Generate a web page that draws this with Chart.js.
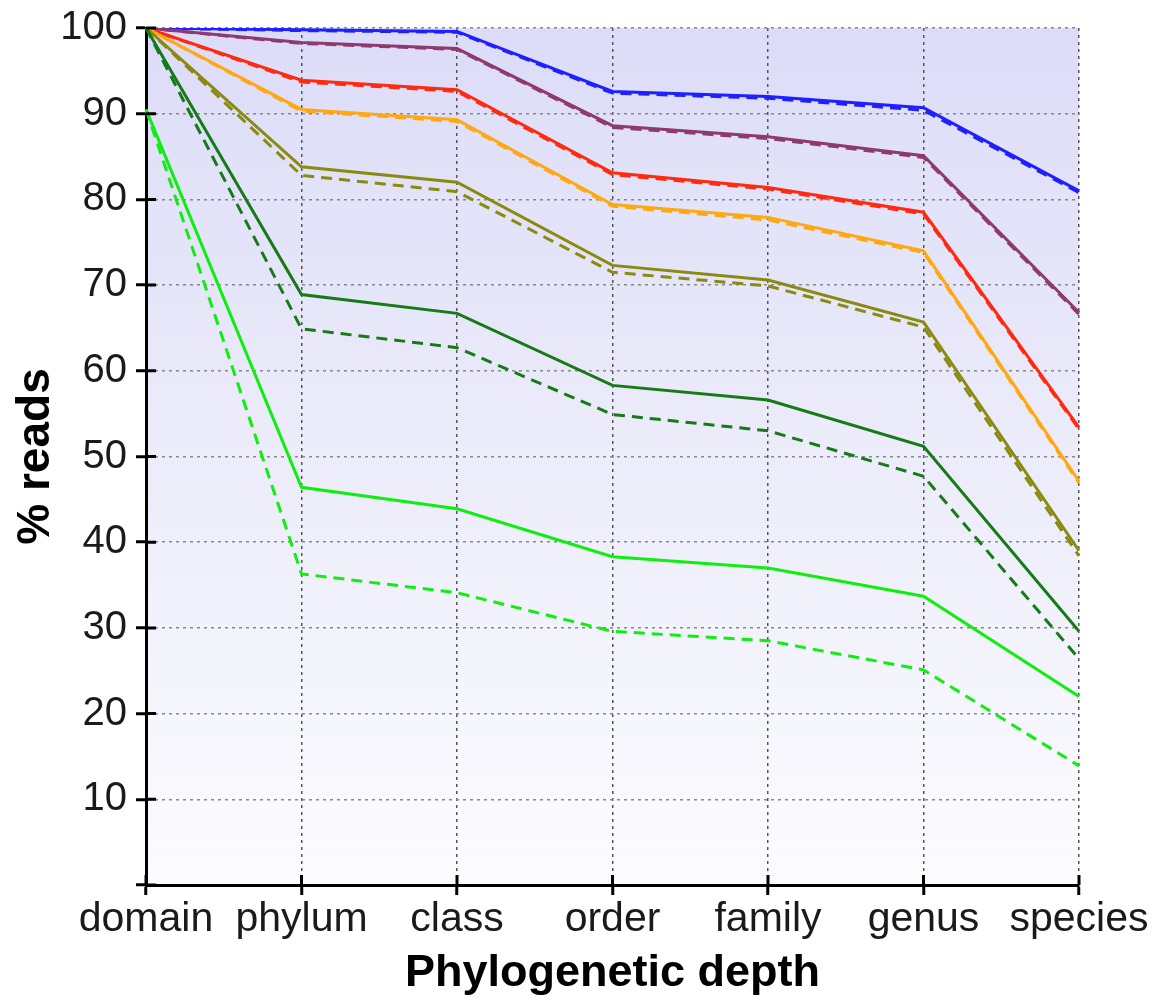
<!DOCTYPE html>
<html>
<head>
<meta charset="utf-8">
<script src="https://cdn.jsdelivr.net/npm/chart.js@4/dist/chart.umd.min.js"></script>
<style>
  html, body { margin: 0; padding: 0; background: #ffffff; }
  #wrap { width: 1158px; height: 1003px; }
</style>
</head>
<body>
<div id="wrap"><canvas id="c" width="1158" height="1003"></canvas></div>
<script>
const categories = ["domain", "phylum", "class", "order", "family", "genus", "species"];
const yTicks = [0, 10, 20, 30, 40, 50, 60, 70, 80, 90, 100];

const blueSolid    = [100, 99.8, 99.6, 92.6, 92.0, 90.7, 81.0];
const blueDashed   = [100, 99.7, 99.5, 92.4, 91.8, 90.4, 80.8];
const purpleSolid  = [100, 98.3, 97.6, 88.6, 87.3, 85.1, 66.8];
const purpleDashed = [100, 98.2, 97.5, 88.4, 87.1, 84.9, 66.6];
const redSolid     = [100, 93.9, 92.8, 83.1, 81.4, 78.5, 53.4];
const redDashed    = [100, 93.7, 92.6, 82.9, 81.2, 78.3, 53.2];
const orangeSolid  = [100, 90.5, 89.3, 79.4, 77.9, 74.0, 47.1];
const orangeDashed = [100, 90.3, 89.1, 79.2, 77.6, 73.8, 46.9];
const oliveSolid   = [100, 83.8, 82.0, 72.3, 70.6, 65.7, 39.0];
const oliveDashed  = [100, 82.8, 80.9, 71.5, 69.9, 65.1, 38.4];
const dgreenSolid  = [100, 68.9, 66.7, 58.3, 56.6, 51.2, 29.6];
const dgreenDashed = [100, 64.9, 62.7, 54.9, 53.0, 47.7, 26.4];
const limeSolid    = [90.5, 46.4, 43.9, 38.3, 37.0, 33.7, 22.0];
const limeDashed   = [90.5, 36.3, 34.1, 29.6, 28.5, 25.1, 13.9];

const C = {
  blue: "#1f1fff",
  purple: "#8e3a6e",
  red: "#ff2a10",
  orange: "#ffa812",
  olive: "#8a8a10",
  dgreen: "#167a16",
  lime: "#10ee10"
};

function ds(data, color, dashed) {
  return {
    data: data,
    borderColor: color,
    backgroundColor: color,
    borderWidth: 3,
    borderDash: dashed ? [11, 7] : [],
    pointRadius: 0,
    pointHoverRadius: 0,
    tension: 0,
    fill: false
  };
}

const datasets = [
  ds(limeDashed, C.lime, true),
  ds(limeSolid, C.lime, false),
  ds(dgreenDashed, C.dgreen, true),
  ds(dgreenSolid, C.dgreen, false),
  ds(oliveDashed, C.olive, true),
  ds(oliveSolid, C.olive, false),
  ds(orangeDashed, C.orange, true),
  ds(orangeSolid, C.orange, false),
  ds(redDashed, C.red, true),
  ds(redSolid, C.red, false),
  ds(purpleDashed, C.purple, true),
  ds(purpleSolid, C.purple, false),
  ds(blueDashed, C.blue, true),
  ds(blueSolid, C.blue, false)
];

const bgPlugin = {
  id: "bg",
  beforeDraw(chart) {
    const { ctx, chartArea: a } = chart;
    const g = ctx.createLinearGradient(0, a.top, 0, a.bottom);
    g.addColorStop(0, "rgb(220,220,248)");
    g.addColorStop(0.5, "rgb(236,236,250)");
    g.addColorStop(1, "rgb(252,252,255)");
    ctx.save();
    ctx.fillStyle = g;
    ctx.fillRect(a.left, a.top, a.right - a.left, a.bottom - a.top);
    ctx.restore();
  }
};

const innerTicks = {
  id: "innerTicks",
  afterDraw(chart) {
    const { ctx, chartArea: a, scales } = chart;
    ctx.save();
    ctx.setLineDash([]);
    ctx.strokeStyle = "#000";
    ctx.lineWidth = 3;
    ctx.beginPath();
    scales.y.ticks.forEach(t => {
      const y = scales.y.getPixelForValue(t.value);
      ctx.moveTo(a.left, y);
      ctx.lineTo(a.left + 10, y);
    });
    categories.forEach((c, i) => {
      const x = scales.x.getPixelForValue(i);
      ctx.moveTo(x, a.bottom);
      ctx.lineTo(x, a.bottom - 10);
    });
    ctx.stroke();
    ctx.restore();
  }
};

new Chart(document.getElementById("c"), {
  type: "line",
  data: { labels: categories, datasets: datasets },
  plugins: [bgPlugin, innerTicks],
  options: {
    responsive: false,
    animation: false,
    devicePixelRatio: 1,
    layout: { padding: { top: 28, right: 79, bottom: 0, left: 0 } },
    plugins: { legend: { display: false }, tooltip: { enabled: false } },
    scales: {
      x: {
        type: "category",
        offset: false,
        afterFit(s) { s.height = 118; },
        grid: {
          color: "#555",
          lineWidth: 1.5,
          tickLength: 10,
          tickColor: "#000",
          tickWidth: 3,
          tickBorderDash: [],
          drawOnChartArea: true
        },
        border: { display: true, color: "#000", width: 3, dash: [3, 4] },
        ticks: {
          color: "#1a1a1a",
          font: { family: "Liberation Sans", size: 41 },
          padding: 0,
          maxRotation: 0,
          minRotation: 0,
          autoSkip: false
        },
        title: {
          display: true,
          text: "Phylogenetic depth",
          color: "#000",
          font: { family: "Liberation Sans", size: 45, weight: "bold" },
          padding: { top: 2, bottom: 2 }
        }
      },
      y: {
        min: 0,
        max: 100,
        afterFit(s) { s.width = 146; s.paddingTop = 0; s.paddingBottom = 0; },
        afterBuildTicks(s) { s.ticks = yTicks.map(v => ({ value: v })); },
        grid: {
          color: "#888",
          lineWidth: 1.5,
          tickLength: 10,
          tickColor: "#000",
          tickWidth: 3,
          tickBorderDash: []
        },
        border: { display: true, color: "#000", width: 3, dash: [3, 4] },
        ticks: {
          color: "#1a1a1a",
          font: { family: "Liberation Sans", size: 40 },
          padding: 9,
          callback: (v) => (v === 0 ? "" : String(v))
        },
        title: {
          display: true,
          text: "% reads",
          color: "#000",
          font: { family: "Liberation Sans", size: 46, weight: "bold" },
          padding: { top: 9, bottom: 9 }
        }
      }
    }
  }
});
</script>
</body>
</html>
